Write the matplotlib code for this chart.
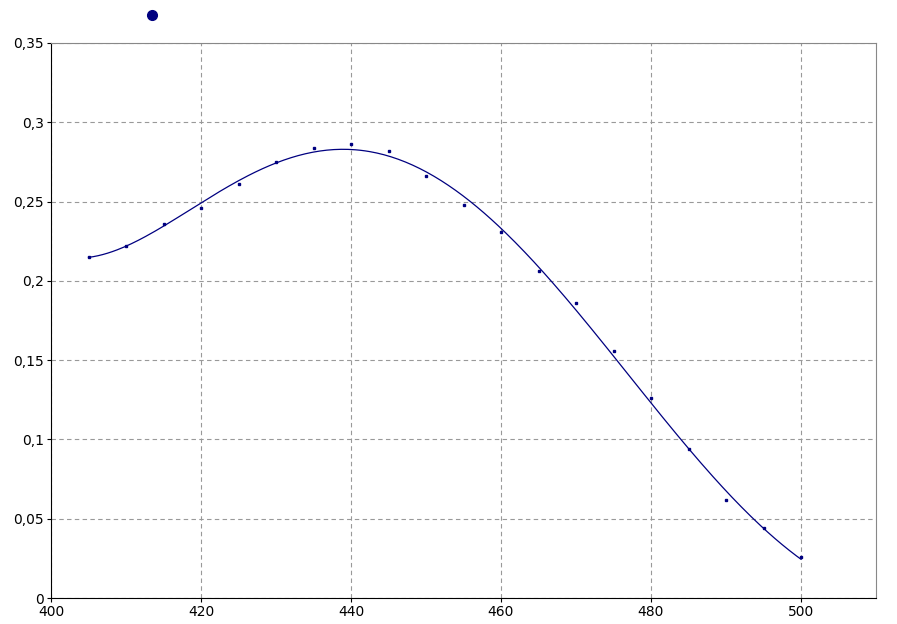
import numpy as np
import matplotlib
matplotlib.use("Agg")
import matplotlib.pyplot as plt
from matplotlib.ticker import FuncFormatter
from matplotlib.lines import Line2D

# measured points
wavelength = [405, 410, 415, 420, 425, 430, 435, 440, 445, 450,
              455, 460, 465, 470, 475, 480, 485, 490, 495, 500]
absorbance = [0.215, 0.222, 0.236, 0.246, 0.261, 0.275, 0.284, 0.286, 0.282, 0.266,
              0.248, 0.231, 0.206, 0.186, 0.156, 0.126, 0.094, 0.062, 0.044, 0.026]

x_ticks = [400, 420, 440, 460, 480, 500]
y_ticks = [0, 0.05, 0.1, 0.15, 0.2, 0.25, 0.3, 0.35]

navy = "#000080"

fig = plt.figure(figsize=(8.97, 6.24), dpi=100)
ax = fig.add_axes([51 / 897, 26 / 624, 825 / 897, 555 / 624])

# smooth trend line through the points
coef = np.polyfit(wavelength, absorbance, 5)
xs = np.linspace(wavelength[0], wavelength[-1], 300)
ax.plot(xs, np.polyval(coef, xs), color=navy, lw=0.9, zorder=3)
ax.plot(wavelength, absorbance, linestyle="none", marker="s", ms=2,
        color=navy, zorder=4)

ax.set_xlim(400, 510)
ax.set_ylim(0, 0.35)
ax.set_xticks(x_ticks)
ax.set_yticks(y_ticks)
ax.yaxis.set_major_formatter(FuncFormatter(lambda v, p: f"{v:g}".replace(".", ",")))
ax.grid(True, color="#999999", linestyle=(0, (4, 3)), linewidth=0.8)
ax.set_axisbelow(True)

ax.spines["left"].set_color("black")
ax.spines["bottom"].set_color("black")
ax.spines["top"].set_color("#888888")
ax.spines["right"].set_color("#888888")
ax.tick_params(direction="out", length=3, labelsize=10, colors="black", pad=2)

# stray legend marker above the plot
fig.add_artist(Line2D([152 / 897], [1 - 15 / 624], marker="o", ms=7,
                      color=navy, transform=fig.transFigure))

fig.savefig("out.png", dpi=100)
